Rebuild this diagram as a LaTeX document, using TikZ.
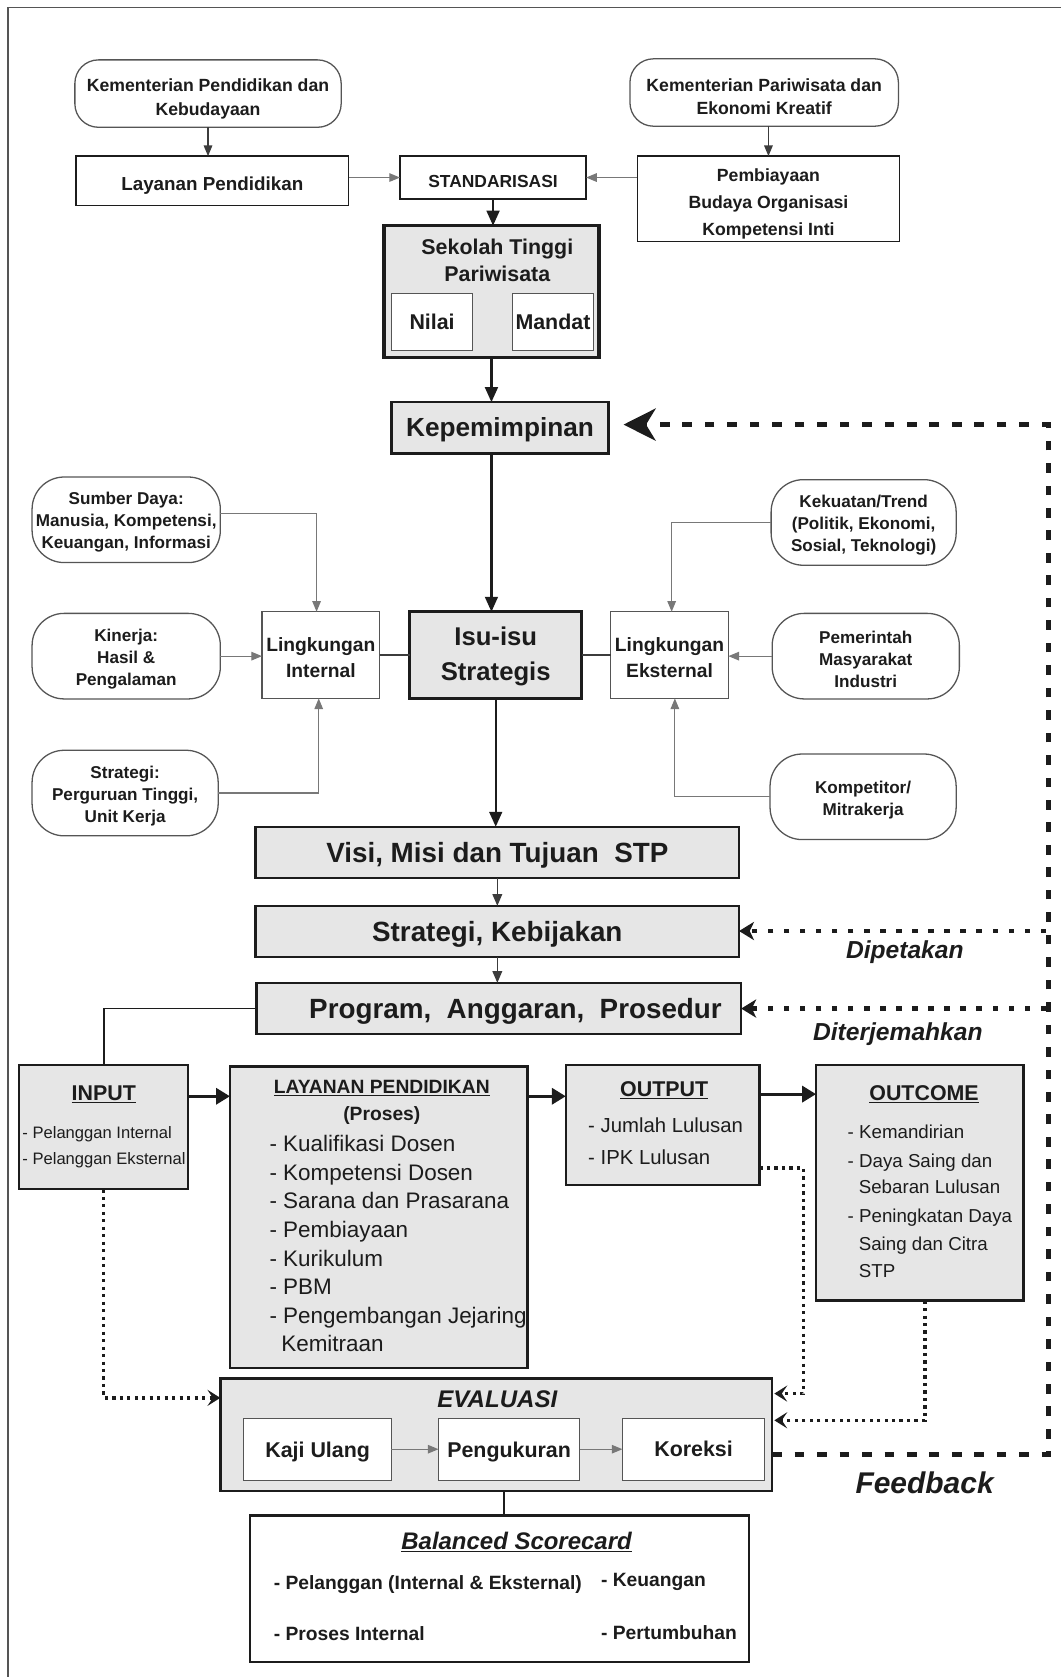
\documentclass[tikz,border=0pt]{standalone}
\usepackage{fontspec}
\setmainfont{Liberation Sans}
\usetikzlibrary{arrows.meta,calc}
\newcommand\myfs[2]{\fontsize{#1}{#2}\selectfont}
\newcommand\tstrut[1]{\rule{0pt}{#1pt}}
\definecolor{boxgray}{RGB}{230,230,230}
\definecolor{ink}{RGB}{28,28,28}
\definecolor{edge}{RGB}{85,85,85}
\definecolor{conn}{RGB}{60,60,60}
\definecolor{conng}{RGB}{120,120,120}
\begin{document}
\begin{tikzpicture}[x=1pt,y=-1pt,
  every node/.style={inner sep=0pt, outer sep=0pt, text=ink},
  rbox/.style={draw=edge, line width=1.2pt, fill=white, rounded corners=22pt, align=center, font=\bfseries\myfs{16.5}{22}},
  obox/.style={draw=edge, line width=1.2pt, fill=white, rounded corners=30pt, align=center, font=\bfseries\myfs{16}{20.5}, minimum width=176pt, minimum height=80pt},
  wbox/.style={draw=ink, line width=1.3pt, fill=white, align=center},
  gbox/.style={draw=ink, line width=2.3pt, fill=boxgray, align=center},
  tarr/.style={draw=conn, line width=1.1pt, -{Triangle[length=10pt,width=8pt]}},
  marr/.style={draw=conn, line width=1.5pt, -{Triangle[length=11pt,width=9pt]}},
  karr/.style={draw=ink, line width=2pt, -{Triangle[length=14pt,width=12pt]}},
  farr/.style={draw=ink, line width=3pt, -{Triangle[length=13pt,width=15pt]}},
  fbline/.style={draw=ink, line width=4.5pt, dash pattern=on 9pt off 12pt},
  dotline/.style={draw=ink, line width=4.5pt, dash pattern=on 5pt off 10pt},
  sdot/.style={draw=ink, line width=3.2pt, dash pattern=on 3pt off 4pt},
  chev/.style={-{Stealth[length=12pt,width=15pt,inset=5pt]}},
  itm/.style={anchor=base west}
]
\useasboundingbox (0,0) rectangle (992,1568);
\draw[edge, line width=1pt] (7.5,1570) -- (7.5,7) -- (1000,7);

% top
\node[rbox, minimum width=249pt, minimum height=63pt] (kpd) at (194.5,87.5) {\tstrut{22}Kementerian Pendidikan dan\\Kebudayaan};
\node[rbox, minimum width=251pt, minimum height=63pt] (kpek) at (714.5,86.5) {\tstrut{20}Kementerian Pariwisata dan\\Ekonomi Kreatif};
\node[wbox, minimum width=255pt, minimum height=46pt, font=\bfseries\myfs{17.6}{20}] (lay) at (198.5,169) {\tstrut{21}Layanan Pendidikan};
\node[wbox, minimum width=174pt, minimum height=40pt, font=\bfseries\myfs{16.3}{20}] (std) at (461,166) {\tstrut{19.5}STANDARISASI};
\node[wbox, minimum width=245pt, minimum height=80pt, font=\bfseries\myfs{16.5}{25}] (pemb) at (718.5,186) {\tstrut{21}Pembiayaan\\Budaya Organisasi\\Kompetensi Inti};

\node[gbox, line width=3pt, minimum width=201pt, minimum height=123pt] (sek) at (459.5,272.5) {};
\node[font=\bfseries\myfs{20}{25}, anchor=base] (sekt1) at (465,238) {Sekolah Tinggi};
\node[font=\bfseries\myfs{20}{25}, anchor=base] (sekt2) at (465,263) {Pariwisata};
\node[wbox, draw=edge, line width=1pt, minimum width=76pt, minimum height=54pt, font=\bfseries\myfs{20}{24}] (nilai) at (404,301) {Nilai};
\node[wbox, draw=edge, line width=1pt, minimum width=76pt, minimum height=54pt, font=\bfseries\myfs{20}{24}] (mandat) at (517,301) {Mandat};

\node[gbox, minimum width=203pt, minimum height=48pt, font=\bfseries\myfs{24.5}{28}] (kep) at (467.5,400) {\tstrut{22}Kepemimpinan};

% middle
\node[gbox, line width=3pt, minimum width=161pt, minimum height=81pt, font=\bfseries\myfs{24}{33}] (isu) at (463.5,612.5) {\tstrut{19.5}Isu-isu\\Strategis};
\node[wbox, draw=edge, line width=1.1pt, minimum width=110pt, minimum height=81pt, font=\bfseries\myfs{18}{24}] (lint) at (300,612.5) {\tstrut{18}Lingkungan\\Internal};
\node[wbox, draw=edge, line width=1.1pt, minimum width=110pt, minimum height=81pt, font=\bfseries\myfs{18}{24}] (leks) at (626,612.5) {\tstrut{18}Lingkungan\\Eksternal};

\node[obox] (sd) at (118,486) {\tstrut{16.5}Sumber Daya:\\Manusia, Kompetensi,\\Keuangan, Informasi};
\node[obox] (kin) at (118,613.5) {\tstrut{17.5}Kinerja:\\Hasil \&\\Pengalaman};
\node[obox, minimum width=174pt] (strt) at (117,741.5) {\tstrut{16.5}Strategi:\\Perguruan Tinggi,\\Unit Kerja};
\node[obox, minimum width=173pt] (kek) at (807.5,488.5) {\tstrut{16.5}Kekuatan/Trend\\(Politik, Ekonomi,\\Sosial, Teknologi)};
\node[obox, minimum width=175pt] (pem) at (809.5,613.5) {\tstrut{17}Pemerintah\\Masyarakat\\Industri};
\node[obox, minimum width=174pt] (komp) at (807,745) {\tstrut{17.5}Kompetitor/\\Mitrakerja};

% strategy chain
\node[gbox, minimum width=452pt, minimum height=48pt, font=\bfseries\myfs{26}{30}] (visi) at (465,797) {\tstrut{25}Visi, Misi dan Tujuan\ \ STP};
\node[gbox, minimum width=452pt, minimum height=48pt, font=\bfseries\myfs{26}{30}] (strk) at (465,871) {\tstrut{25}Strategi, Kebijakan};
\node[gbox, minimum width=453pt, minimum height=48pt] (prog) at (466.5,943) {};
\node[font=\bfseries\myfs{26}{30}] (progt) at (482,946) {Program,\ \ Anggaran,\ \ Prosedur};

% process row
\node[gbox, line width=2pt, minimum width=158pt, minimum height=116pt] (input) at (97,1054) {};
\node[font=\bfseries\myfs{20}{24}, anchor=base] (inputt) at (97,1029) {\underline{INPUT}};
\node[font=\myfs{15.5}{20}, itm] (in1) at (21,1064.6) {- Pelanggan Internal};
\node[font=\myfs{15.5}{20}, itm] (in2) at (21,1088.6) {- Pelanggan Eksternal};

\node[gbox, minimum width=278pt, minimum height=282pt] (layp) at (354,1138) {};
\node[font=\bfseries\myfs{18}{22}, anchor=base] (laypt) at (357,1022.5) {\underline{LAYANAN PENDIDIKAN}};
\node[font=\bfseries\myfs{18}{22}, anchor=base] (laypp) at (357,1047.5) {(Proses)};
\foreach \t [count=\i] in {Kualifikasi Dosen, Kompetensi Dosen, Sarana dan Prasarana, Pembiayaan, Kurikulum, PBM, Pengembangan Jejaring}
  \node[font=\myfs{21}{26}, itm] (li\i) at (252,{1077+26.7*(\i-1)}) {- \t};
\node[font=\myfs{21}{26}, itm] (li8) at (263,1264) {Kemitraan};

\node[gbox, minimum width=181pt, minimum height=112pt] (output) at (619.5,1052) {};
\node[font=\bfseries\myfs{20}{24}, anchor=base] (outputt) at (621,1025) {\underline{OUTPUT}};
\node[font=\myfs{19}{24}, itm] (ou1) at (550,1058.6) {- Jumlah Lulusan};
\node[font=\myfs{19}{24}, itm] (ou2) at (550,1088.8) {- IPK Lulusan};

\node[gbox, minimum width=194pt, minimum height=220pt] (outcome) at (860,1106) {};
\node[font=\bfseries\myfs{20}{24}, anchor=base] (outcomet) at (864,1028.8) {\underline{OUTCOME}};
\node[font=\myfs{17.5}{22}, itm] (oc1) at (792.6,1064.3) {- Kemandirian};
\node[font=\myfs{17.5}{22}, itm] (oc2) at (792.6,1091.3) {- Daya Saing dan};
\node[font=\myfs{17.5}{22}, itm] (oc3) at (803,1116.3) {Sebaran Lulusan};
\node[font=\myfs{17.5}{22}, itm] (oc4) at (792.6,1142.9) {- Peningkatan Daya};
\node[font=\myfs{17.5}{22}, itm] (oc5) at (803,1169.3) {Saing dan Citra};
\node[font=\myfs{17.5}{22}, itm] (oc6) at (803,1194.3) {STP};

% evaluation
\node[gbox, minimum width=516pt, minimum height=105pt] (eval) at (464,1341.5) {};
\node[font=\bfseries\itshape\myfs{22.5}{26}, anchor=base] (evalt) at (465,1316) {EVALUASI};
\node[wbox, draw=edge, line width=1.1pt, minimum width=138pt, minimum height=58pt, font=\bfseries\myfs{20}{24}] (kaji) at (297,1355) {\tstrut{20.5}Kaji Ulang};
\node[wbox, draw=edge, line width=1.1pt, minimum width=132pt, minimum height=58pt, font=\bfseries\myfs{20}{24}] (peng) at (476,1355) {\tstrut{20.5}Pengukuran};
\node[wbox, draw=edge, line width=1.1pt, minimum width=133pt, minimum height=58pt, font=\bfseries\myfs{20}{24}] (kor) at (648.5,1355) {Koreksi};

\node[wbox, line width=2pt, minimum width=466pt, minimum height=137pt] (bsc) at (467,1485.5) {};
\node[font=\bfseries\itshape\myfs{22.4}{26}, anchor=base] (bsct) at (483,1449) {\underline{Balanced Scorecard}};
\node[font=\bfseries\myfs{18}{22}, itm] (bs1) at (256,1486.5) {- Pelanggan (Internal \& Eksternal)};
\node[font=\bfseries\myfs{18}{22}, itm] (bs2) at (562,1483.5) {- Keuangan};
\node[font=\bfseries\myfs{18}{22}, itm] (bs3) at (256,1533.5) {- Proses Internal};
\node[font=\bfseries\myfs{18}{22}, itm] (bs4) at (562,1532.5) {- Pertumbuhan};

% labels
\node[font=\bfseries\itshape\myfs{23}{26}, anchor=base] (dip) at (846,896) {Dipetakan};
\node[font=\bfseries\itshape\myfs{23}{26}, anchor=base] (dit) at (839.5,972.8) {Diterjemahkan};
\node[font=\bfseries\itshape\myfs{28}{32}, anchor=base] (fbk) at (864.5,1396.6) {Feedback};

% connectors top
\draw[tarr] (kpd.south) -- (kpd.south |- lay.north);
\draw[tarr] (pemb.north |- kpek.south) -- (pemb.north);
\draw[tarr, draw=conng] (lay.east |- std.west) -- (std.west);
\draw[tarr, draw=conng] (pemb.west |- std.east) -- (std.east);
\draw[karr] (std.south) -- (std.south |- sek.north);
\draw[karr] (sek.south) -- (sek.south |- kep.north);
\draw[karr] (kep.south -| sek.south) -- (isu.north -| sek.south);
\draw[karr] (isu.south) -- (isu.south |- visi.north);
\draw[marr] (visi.south) -- (strk.north);
\draw[marr] (strk.south) -- (prog.north -| strk.south);
\draw[draw=ink, line width=1.5pt] (prog.west) -| (input.north);

% environment
\draw[tarr, draw=conng] ([yshift=6pt]sd.east) -| ([xshift=-4pt]lint.north);
\draw[tarr, draw=conng] (kin.east) -- (kin.east -| lint.west);
\draw[tarr, draw=conng] (strt.east) -| ([xshift=-2pt]lint.south);
\draw[draw=conn, line width=1.1pt] (lint.east) -- (isu.west);
\draw[draw=conn, line width=1.1pt] (isu.east) -- (leks.west);
\draw[tarr, draw=conng] (kek.west) -| ([xshift=2pt]leks.north);
\draw[tarr, draw=conng] (pem.west) -- (pem.west -| leks.east);
\draw[tarr, draw=conng] (komp.west) -| ([xshift=5pt]leks.south);

% process arrows
\coordinate (r1) at (0,1025);
\coordinate (r2) at (0,1023);
\draw[farr] (input.east |- r1) -- (layp.west |- r1);
\draw[farr] (layp.east |- r1) -- (output.west |- r1);
\draw[farr] (output.east |- r2) -- (outcome.west |- r2);

% dotted to evaluation
\coordinate (e1) at (0,1307);
\draw[sdot, chev] (input.south) |- (eval.west |- e1);
\coordinate (ob1) at (751,1092);
\coordinate (ob2) at (751,1303);
\draw[sdot, chev, shorten >=2pt] (output.east |- ob1) -- (ob1) -- (ob2) -- (eval.east |- ob2);
\coordinate (oc) at (865,1328);
\draw[sdot, chev, shorten >=2pt] ([xshift=5pt]outcome.south) -- (oc) -- (eval.east |- oc);

% feedback
\coordinate (fbr) at (980,1360);
\coordinate (fbt) at (980,397);
\draw[fbline, -{Stealth[length=30pt,width=30pt,inset=9pt]}, shorten >=14pt] (eval.east |- fbr) -- (fbr) -- (fbt) -- (kep.east |- fbt);
\coordinate (dp) at (978,870.5);
\coordinate (dt) at (978,943);
\draw[dotline, -{Stealth[length=14pt,width=17pt,inset=4pt]}] (dp) -- (strk.east |- dp);
\draw[dotline, -{Stealth[length=14pt,width=17pt,inset=4pt]}] (dt) -- (prog.east |- dt);

% evaluation internals
\draw[tarr, draw=conng] (kaji.east) -- (peng.west);
\draw[tarr, draw=conng] (peng.east) -- (kor.west);
\coordinate (bl) at (471,0);
\draw[draw=ink, line width=1.5pt] (eval.south -| bl) -- (bsc.north -| bl);
\end{tikzpicture}
\end{document}
